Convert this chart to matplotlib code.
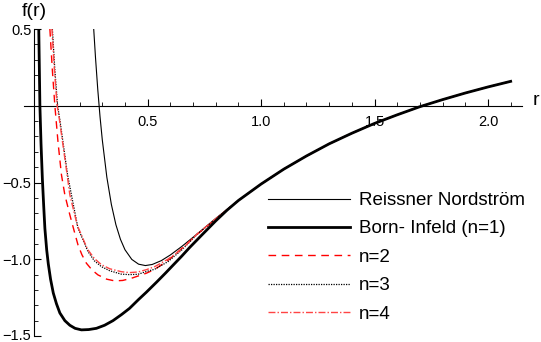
# Metric function f(r): Reissner-Nordstrom vs Born-Infeld type solutions
import matplotlib.pyplot as plt
import matplotlib.transforms as mtransforms
from matplotlib.ticker import MultipleLocator

plt.rcParams['font.family'] = ['Liberation Sans', 'DejaVu Sans']

# Shared large-r part (all curves coincide there)
r_tail = [0.9, 1.0, 1.1, 1.2, 1.3, 1.4, 1.5, 1.6, 1.7, 1.8, 1.9, 2.0, 2.1]
f_tail = [-0.617, -0.51, -0.413, -0.327, -0.248, -0.179, -0.115, -0.059,
          -0.006, 0.040, 0.083, 0.1225, 0.159]

# Reissner Nordström
r_rn = [0.255, 0.262, 0.27, 0.28, 0.29, 0.30, 0.32, 0.34, 0.36, 0.38, 0.40,
        0.43, 0.46, 0.49, 0.52, 0.56, 0.60, 0.65, 0.70, 0.75, 0.80, 0.85] + r_tail
f_rn = [0.692, 0.504, 0.315, 0.107, -0.071, -0.222, -0.465, -0.643, -0.775,
        -0.870, -0.938, -1.001, -1.032, -1.041, -1.034, -1.009, -0.972, -0.917,
        -0.857, -0.796, -0.734, -0.675] + f_tail

# Born-Infeld (n=1)
r_bi = [0.0195, 0.020, 0.022, 0.025, 0.030, 0.036, 0.042, 0.047, 0.055, 0.062,
        0.072, 0.084, 0.098, 0.113, 0.135, 0.157, 0.18, 0.208, 0.24, 0.274,
        0.31, 0.347, 0.385, 0.42, 0.46, 0.494, 0.54, 0.58, 0.611, 0.65, 0.684,
        0.74, 0.80, 0.85] + r_tail
f_bi = [0.6, 0.5, 0.3, 0.0, -0.25, -0.48, -0.66, -0.80, -0.94, -1.03, -1.13,
        -1.22, -1.29, -1.35, -1.40, -1.43, -1.45, -1.46, -1.458, -1.45, -1.43,
        -1.40, -1.36, -1.32, -1.262, -1.215, -1.148, -1.088, -1.04, -0.98,
        -0.925, -0.84, -0.75, -0.68] + f_tail

# n=2
r_n2 = [0.069, 0.080, 0.091, 0.105, 0.120, 0.135, 0.157, 0.175, 0.193, 0.210,
        0.230, 0.255, 0.281, 0.32, 0.355, 0.39, 0.428, 0.46, 0.494, 0.53, 0.56,
        0.60, 0.65, 0.72, 0.80] + r_tail
f_n2 = [0.5, 0.23, 0.0, -0.24, -0.45, -0.581, -0.711, -0.81, -0.907, -0.97,
        -1.026, -1.07, -1.102, -1.13, -1.141, -1.138, -1.124, -1.108, -1.091,
        -1.067, -1.037, -0.995, -0.93, -0.835, -0.74] + f_tail

# n=3
r_n3 = [0.080, 0.091, 0.103, 0.113, 0.147, 0.164, 0.193, 0.237, 0.265, 0.296,
        0.333, 0.384, 0.42, 0.457, 0.494, 0.531, 0.589, 0.65, 0.72, 0.80] + r_tail
f_n3 = [0.5, 0.23, 0.0, -0.092, -0.45, -0.581, -0.798, -0.95, -1.01, -1.048,
        -1.075, -1.097, -1.10, -1.098, -1.08, -1.065, -1.016, -0.94, -0.835,
        -0.738] + f_tail

# n=4
r_n4 = [0.078, 0.089, 0.101, 0.111, 0.145, 0.157, 0.19, 0.235, 0.265, 0.296,
        0.333, 0.384, 0.42, 0.457, 0.494, 0.531, 0.589, 0.65, 0.72, 0.80] + r_tail
f_n4 = [0.5, 0.23, 0.0, -0.09, -0.45, -0.581, -0.78, -0.935, -0.995, -1.035,
        -1.062, -1.081, -1.087, -1.083, -1.068, -1.048, -1.0, -0.935, -0.833,
        -0.736] + f_tail

fig = plt.figure(figsize=(5.41, 3.42), dpi=100)
ax = fig.add_axes([0.0444, 0.0175, 0.9205, 0.8977])

ax.plot(r_rn, f_rn, color='black', lw=0.8, label='Reissner Nordström', zorder=3)
ax.plot(r_bi, f_bi, color='black', lw=2.0, label='Born- Infeld (n=1)', zorder=6)
ax.plot(r_n2, f_n2, color='red', lw=1.0, dashes=(5.5, 4), label='n=2', zorder=4)
ax.plot(r_n3, f_n3, color='black', lw=0.9, dashes=(1, 1), label='n=3', zorder=4)
ax.plot(r_n4, f_n4, color='#ff4444', lw=1.0, dashes=(5, 1.5, 1, 1.5),
        label='n=4', zorder=4)

ax.set_xlim(-0.045, 2.15)
ax.set_ylim(-1.5, 0.5)

# axes crossing at the origin
ax.spines['left'].set_position(('data', 0))
ax.spines['bottom'].set_position(('data', 0))
ax.spines['right'].set_visible(False)
ax.spines['top'].set_visible(False)
ax.patch.set_visible(False)

ax.set_xticks([0.5, 1.0, 1.5, 2.0])
ax.set_xticklabels(['0.5', '1.0', '1.5', '2.0'])
ax.set_yticks([-1.5, -1.0, -0.5, 0.5])
ax.set_yticklabels(['\u22121.5', '\u22121.0', '\u22120.5', '0.5'])
ax.xaxis.set_minor_locator(MultipleLocator(0.1))
ax.yaxis.set_minor_locator(MultipleLocator(0.1))
ax.tick_params(which='major', direction='in', length=5, width=0.8, labelsize=10.5)
ax.tick_params(which='minor', direction='in', length=3, width=0.6)
ax.tick_params(axis='x', pad=7)
ax.tick_params(axis='y', pad=2)

# keep the bottom label inside the picture
lbl = ax.get_yticklabels()[0]
lbl.set_transform(lbl.get_transform() +
                  mtransforms.ScaledTranslation(0, 2 / 100, fig.dpi_scale_trans))

fig.text(34 / 541, 1 - 12 / 342, 'f(r)', ha='center', va='center', fontsize=14)
fig.text(536 / 541, 1 - 101 / 342, 'r', ha='center', va='center', fontsize=14)

ax.legend(loc='upper left', bbox_to_anchor=(0.4954, 0.4386),
          bbox_transform=fig.transFigure, frameon=False, fontsize=13.5,
          handlelength=4.37, handletextpad=0.48, labelspacing=0.6,
          borderpad=0, borderaxespad=0)

fig.savefig('out.png', dpi=100)
